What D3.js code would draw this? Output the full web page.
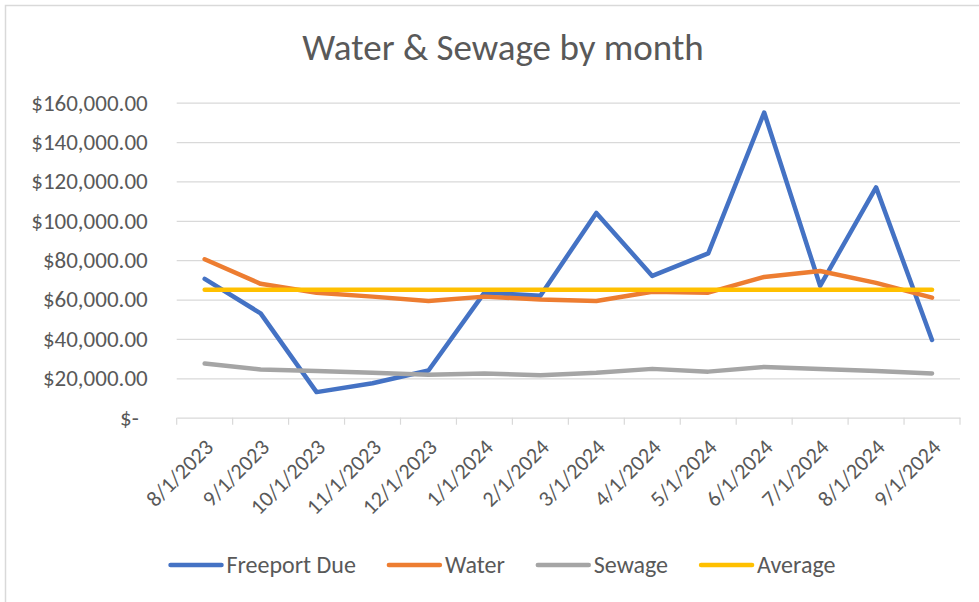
<!DOCTYPE html>
<html>
<head>
<meta charset="utf-8">
<script src="https://cdn.jsdelivr.net/npm/d3@7"></script>
<style>
  body { margin: 0; background: #fff; }
  svg text { font-family: Calibri, Carlito, Lato, sans-serif; fill: #595959; }
</style>
</head>
<body>
<div id="viz"></div>
<script>
// datos de la planilla
var months = ['8/1/2023', '9/1/2023', '10/1/2023', '11/1/2023', '12/1/2023', '1/1/2024', '2/1/2024',
              '3/1/2024', '4/1/2024', '5/1/2024', '6/1/2024', '7/1/2024', '8/1/2024', '9/1/2024'];
var freeportDue = [70500, 53000, 13000, 17500, 24000, 63500, 62000, 104000, 72000, 83500, 155000, 67000, 117000, 39500];
var water       = [80500, 68000, 63500, 61500, 59300, 61500, 60000, 59300, 64000, 63500, 71500, 74500, 68500, 61000];
var sewage      = [27500, 24500, 23700, 22800, 21800, 22500, 21500, 22800, 24800, 23400, 25800, 24700, 23700, 22500];
var average     = [65000, 65000, 65000, 65000, 65000, 65000, 65000, 65000, 65000, 65000, 65000, 65000, 65000, 65000];
var yTicks = [0, 20000, 40000, 60000, 80000, 100000, 120000, 140000, 160000];
var seriesNames = ['Freeport Due', 'Water', 'Sewage', 'Average'];
var seriesValues = [freeportDue, water, sewage, average];
var colors = ['#4472C4', '#ED7D31', '#A5A5A5', '#FFC000'];

var width = 979, height = 602;
var plot = {left: 176.7, right: 960, top: 102.7, bottom: 417.7};

var svg = d3.select('#viz').append('svg')
  .attr('width', width)
  .attr('height', height);

// borde del area del grafico
svg.append('rect')
  .attr('x', 5.5).attr('y', 5.5)
  .attr('width', 1000).attr('height', 700)
  .style('fill', '#fff')
  .style('stroke', '#d9d9d9')
  .style('stroke-width', 1.5);

var x = d3.scaleBand().domain(months).range([plot.left, plot.right]);
var y = d3.scaleLinear().domain([0, 160000]).range([plot.bottom, plot.top]);

// titulo
svg.append('text')
  .attr('x', 503).attr('y', 60)
  .attr('text-anchor', 'middle')
  .style('font-size', '37px')
  .text('Water & Sewage by month');

// eje Y con grilla
var fmt = d3.format(',.2f');
var yAxis = svg.append('g')
  .attr('transform', 'translate(' + plot.left + ',0)')
  .call(d3.axisLeft(y).tickValues(yTicks).tickSize(-(plot.right - plot.left)).tickPadding(29)
    .tickFormat(function(d) { return d === 0 ? '$-' : '$' + fmt(d); }));
yAxis.select('.domain').remove();
yAxis.selectAll('line')
  .style('stroke', '#d9d9d9')
  .style('stroke-width', 1.2)
  .style('opacity', function(d) { return d === 0 ? 0 : 1; });
yAxis.selectAll('text')
  .style('font-size', '23px')
  .style('font-family', 'Calibri, Carlito, Lato, sans-serif')
  .style('fill', '#595959')
  .attr('dx', function(d) { return d === 0 ? -9 : 0; });

// eje X
var xAxis = svg.append('g')
  .attr('transform', 'translate(0,' + plot.bottom + ')')
  .call(d3.axisBottom(x).tickSize(0));
xAxis.select('.domain')
  .style('stroke', '#d9d9d9')
  .style('stroke-width', 1.2);
xAxis.selectAll('text')
  .attr('x', 0).attr('y', 0).attr('dy', 0)
  .attr('text-anchor', 'end')
  .attr('transform', 'translate(10,31) rotate(-45)')
  .style('font-size', '22px')
  .style('font-family', 'Calibri, Carlito, Lato, sans-serif')
  .style('fill', '#595959');

// marcas entre categorias
var bounds = months.map(function(m) { return x(m); }).concat([plot.right]);
svg.append('g').selectAll('line')
  .data(bounds)
  .enter().append('line')
  .attr('x1', function(d) { return d; })
  .attr('x2', function(d) { return d; })
  .attr('y1', plot.bottom)
  .attr('y2', plot.bottom + 7)
  .style('stroke', '#d9d9d9')
  .style('stroke-width', 1.2);

// lineas de las series
var line = d3.line()
  .x(function(d, i) { return x(months[i]) + x.bandwidth() / 2; })
  .y(function(d) { return y(d); });

var gLines = svg.append('g');
seriesValues.forEach(function(vals, i) {
  gLines.append('path')
    .attr('d', line(vals))
    .style('fill', 'none')
    .style('stroke', colors[i])
    .style('stroke-width', 4.5)
    .style('stroke-linecap', 'round')
    .style('stroke-linejoin', 'round');
});

// leyenda
var legend = svg.append('g');
var lx = 0;
seriesNames.forEach(function(name, i) {
  var item = legend.append('g').attr('transform', 'translate(' + lx + ',0)');
  item.append('line')
    .attr('x1', 2).attr('x2', 53)
    .attr('y1', 0).attr('y2', 0)
    .style('stroke', colors[i])
    .style('stroke-width', 4.5)
    .style('stroke-linecap', 'round');
  var t = item.append('text')
    .attr('x', 58).attr('y', 8)
    .style('font-size', '24px')
    .text(name);
  lx += 58 + t.node().getComputedTextLength() + 31;
});
var legendWidth = lx - 31;
legend.attr('transform', 'translate(' + (502 - legendWidth / 2) + ',565)');
</script>
</body>
</html>
